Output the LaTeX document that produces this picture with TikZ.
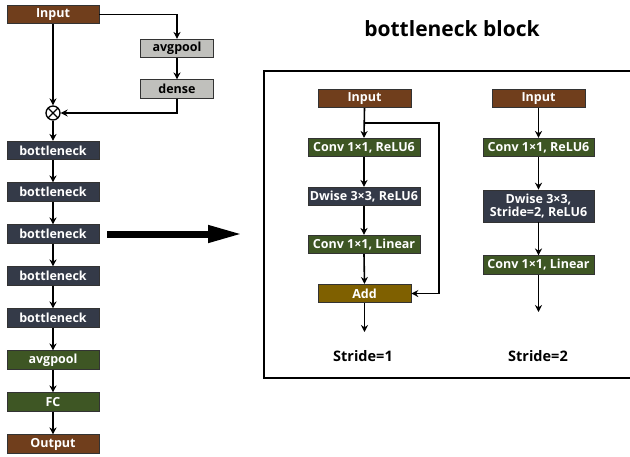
\documentclass[tikz,border=0pt]{standalone}
\usepackage{fontspec}
\setmainfont{Open Sans}
\usepackage{tikz}
\usetikzlibrary{arrows.meta,calc}
\definecolor{inbrown}{RGB}{112,62,28}
\definecolor{gpgray}{RGB}{192,192,188}
\definecolor{bnnavy}{RGB}{52,58,72}
\definecolor{cvgreen}{RGB}{62,86,36}
\definecolor{addgold}{RGB}{127,96,0}

\tikzset{
  blk/.style={draw=black!80, line width=0.6pt, fill=#1, text=white,
    font=\bfseries\fontsize{12.5}{13}\selectfont, minimum height=18.5pt,
    inner sep=0pt, align=center},
  arr/.style={line width=1.6pt, -{Stealth[length=7pt,width=7pt]}},
  stridelbl/.style={font=\bfseries\fontsize{14.5}{16}\selectfont}
}

\begin{document}
\begin{tikzpicture}[x=1pt,y=-1pt]
  \useasboundingbox (0,0) rectangle (630,456);
  % main network
  \node[blk=inbrown, minimum width=92pt] (in) at (53,14.5) {Input};
  \node[blk=gpgray, text=black, minimum width=73pt] (gpool) at (177,48.5) {avgpool};
  \node[blk=gpgray, text=black, minimum width=73pt] (dense) at (177,89) {dense};
  \node[draw, circle, line width=1.3pt, minimum size=14pt, inner sep=0pt,
    path picture={\draw[line width=1.3pt] (path picture bounding box.north west) -- (path picture bounding box.south east)
      (path picture bounding box.north east) -- (path picture bounding box.south west);}] (mult) at (53,113) {};
  \node[blk=bnnavy, minimum width=92pt] (b1) at (53,150.5) {bottleneck};
  \node[blk=bnnavy, minimum width=92pt] (b2) at (53,192) {bottleneck};
  \node[blk=bnnavy, minimum width=92pt] (b3) at (53,234) {bottleneck};
  \node[blk=bnnavy, minimum width=92pt] (b4) at (53,276) {bottleneck};
  \node[blk=bnnavy, minimum width=92pt] (b5) at (53,318) {bottleneck};
  \node[blk=cvgreen, minimum width=92pt] (pool) at (53,360) {avgpool};
  \node[blk=cvgreen, minimum width=92pt] (fc) at (53,402) {FC};
  \node[blk=inbrown, minimum width=92pt] (out) at (53,444) {Output};

  \draw[arr] (in.south) -- (mult.north);
  \draw[arr] (in.east) -| (gpool.north);
  \draw[arr] (gpool.south) -- (dense.north);
  \draw[arr] (dense.south) |- (mult.east);
  \draw[arr] (mult.south) -- (b1.north);
  \draw[arr] (b1.south) -- (b2.north);
  \draw[arr] (b2.south) -- (b3.north);
  \draw[arr] (b3.south) -- (b4.north);
  \draw[arr] (b4.south) -- (b5.north);
  \draw[arr] (b5.south) -- (pool.north);
  \draw[arr] (pool.south) -- (fc.north);
  \draw[arr] (fc.south) -- (out.north);

  % zoom arrow
  \coordinate (bigtip) at (243,234);
  \draw[line width=7pt, -{Triangle[length=35pt,width=16pt]}] ([xshift=8pt]b3.east) -- (bigtip);

  % bottleneck block
  \node[font=\bfseries\fontsize{21}{23}\selectfont] (title) at (452,29) {bottleneck block};
  \draw[line width=2.2pt] (631,71) -- (264,71) -- (264,378) -- (631,378);

  % stride 1
  \node[blk=inbrown, minimum width=93pt] (s1in) at (364.5,98.5) {Input};
  \node[blk=cvgreen, minimum width=112pt] (s1c1) at (364,147.5) {Conv 1×1, ReLU6};
  \node[blk=bnnavy, minimum width=112pt] (s1dw) at (364,196.5) {Dwise 3×3, ReLU6};
  \node[blk=cvgreen, minimum width=112pt] (s1c2) at (364,244.5) {Conv 1×1, Linear};
  \node[blk=addgold, minimum width=93pt] (add) at (364.5,293.5) {Add};
  \coordinate (s1out) at (364.5,332);
  \node[stridelbl] (st1) at (363,356) {Stride=1};

  \draw[arr] (s1in.south) -- (s1c1.north);
  \draw[arr] ($(s1in.south)!0.5!(s1c1.north)$) -- ++(75,0) |- (add.east);
  \draw[arr] (s1c1.south) -- (s1dw.north);
  \draw[arr] (s1dw.south) -- (s1c2.north);
  \draw[arr] (s1c2.south) -- (add.north);
  \draw[arr] (add.south) -- (s1out);

  % stride 2
  \node[blk=inbrown, minimum width=93pt] (s2in) at (538.5,98.5) {Input};
  \node[blk=cvgreen, minimum width=111pt] (s2c1) at (538.5,147.5) {Conv 1×1, ReLU6};
  \node[blk=bnnavy, minimum width=111pt, minimum height=32pt] (s2dw) at (538.5,206) {Dwise 3×3,\\Stride=2, ReLU6};
  \node[blk=cvgreen, minimum width=111pt] (s2c2) at (538.5,265) {Conv 1×1, Linear};
  \coordinate (s2out) at (538.5,312);
  \node[stridelbl] (st2) at (538,356) {Stride=2};

  \draw[arr] (s2in.south) -- (s2c1.north);
  \draw[arr] (s2c1.south) -- (s2dw.north);
  \draw[arr] (s2dw.south) -- (s2c2.north);
  \draw[arr] (s2c2.south) -- (s2out);
\end{tikzpicture}
\end{document}
